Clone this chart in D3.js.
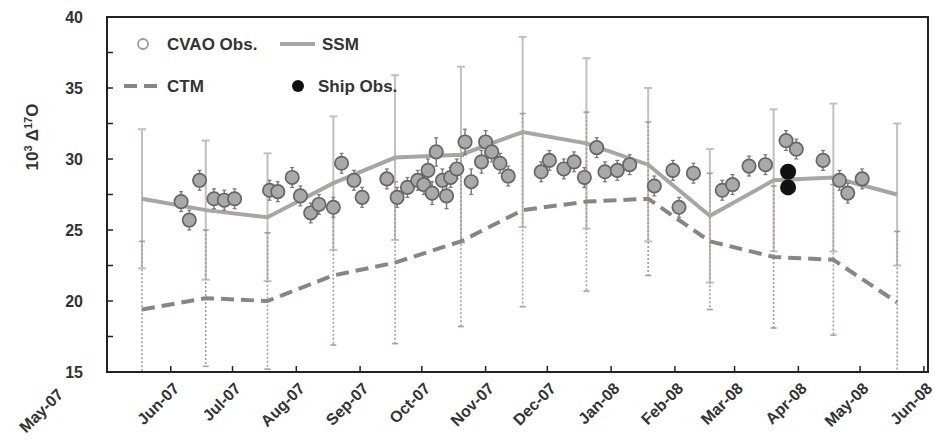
<!DOCTYPE html>
<html>
<head>
<meta charset="utf-8">
<script src="https://cdn.jsdelivr.net/npm/d3@7"></script>
<style>
  html, body { margin: 0; padding: 0; background: #fff; }
  svg { display: block; }
  text { font-family: "Liberation Sans", Arial, sans-serif; font-weight: bold; fill: #333; }
</style>
</head>
<body>
<svg id="chart" width="935" height="440"></svg>
<script>
// ---------- data ----------
const yTicks = [15, 20, 25, 30, 35, 40];
const monthTicks = ["2007-05-01","2007-06-01","2007-07-01","2007-08-01","2007-09-01","2007-10-01",
  "2007-11-01","2007-12-01","2008-01-01","2008-02-01","2008-03-01","2008-04-01","2008-05-01","2008-06-01"];

const modelDates = ["2007-05-18","2007-06-18","2007-07-18","2007-08-19","2007-09-18","2007-10-20",
  "2007-11-19","2007-12-20","2008-01-19","2008-02-18","2008-03-20","2008-04-18","2008-05-19"];
const ssm    = [27.2, 26.4, 25.9, 28.3, 30.1, 30.3, 31.9, 31.1, 29.6, 26.0, 28.5, 28.7, 27.5];
const ssmErr = [4.9, 4.9, 4.5, 4.7, 5.8, 6.2, 6.7, 6.0, 5.4, 4.7, 5.0, 5.2, 5.0];
const ctm    = [19.4, 20.2, 20.0, 21.8, 22.7, 24.2, 26.4, 27.0, 27.2, 24.2, 23.1, 22.9, 19.9];
const ctmErr = [4.8, 4.8, 4.8, 4.9, 5.7, 6.0, 6.8, 6.3, 5.4, 4.8, 5.0, 5.3, 5.0];

const cvaoDates = ["2007-06-06","2007-06-10","2007-06-15","2007-06-22","2007-06-27","2007-07-02",
  "2007-07-19","2007-07-23","2007-07-30","2007-08-03","2007-08-08","2007-08-12","2007-08-19",
  "2007-08-23","2007-08-29","2007-09-02","2007-09-14","2007-09-19","2007-09-24","2007-09-29",
  "2007-10-02","2007-10-04","2007-10-06","2007-10-08","2007-10-11","2007-10-13","2007-10-15",
  "2007-10-18","2007-10-22","2007-10-25","2007-10-30","2007-11-01","2007-11-04","2007-11-08",
  "2007-11-12","2007-11-28","2007-12-02","2007-12-09","2007-12-14","2007-12-19","2007-12-25",
  "2007-12-29","2008-01-04","2008-01-10","2008-01-22","2008-01-31","2008-02-03","2008-02-10",
  "2008-02-24","2008-02-29","2008-03-08","2008-03-16","2008-03-26","2008-03-31","2008-04-13",
  "2008-04-21","2008-04-25","2008-05-02"];
const cvao = [27.0, 25.7, 28.5, 27.2, 27.1, 27.2,
  27.8, 27.7, 28.7, 27.4, 26.2, 26.8, 26.6,
  29.7, 28.5, 27.3, 28.6, 27.3, 28.0, 28.5,
  28.2, 29.2, 27.6, 30.5, 28.5, 27.4, 28.7,
  29.3, 31.2, 28.4, 29.8, 31.2, 30.5, 29.7,
  28.8, 29.1, 29.9, 29.3, 29.8, 28.7, 30.8,
  29.1, 29.2, 29.6, 28.1, 29.2, 26.6, 29.0,
  27.8, 28.2, 29.5, 29.6, 31.3, 30.7, 29.9,
  28.5, 27.6, 28.6];
const cvaoErr = [0.7, 0.7, 0.7, 0.7, 0.7, 0.7,
  0.7, 0.7, 0.7, 0.7, 0.7, 0.7, 0.7,
  0.7, 0.7, 0.7, 0.7, 0.7, 0.7, 0.7,
  0.7, 0.8, 0.8, 1.0, 0.8, 0.9, 0.7,
  0.7, 0.9, 0.9, 0.8, 0.8, 0.7, 0.7,
  0.7, 0.7, 0.7, 0.7, 0.7, 0.7, 0.7,
  0.7, 0.7, 0.7, 0.7, 0.7, 0.7, 0.7,
  0.7, 0.7, 0.7, 0.7, 0.7, 0.7, 0.7,
  0.7, 0.7, 0.7];

const shipDates = ["2008-03-27", "2008-03-27"];
const ship = [29.1, 28.0];

// ---------- layout ----------
const parse = d3.timeParse("%Y-%m-%d");
const pLeft = 107, pRight = 928, pTop = 17, pBottom = 372;
const x = d3.scaleTime().domain([parse("2007-05-01"), parse("2008-06-03")]).range([pLeft, pRight]);
const y = d3.scaleLinear().domain([15, 40]).range([pBottom, pTop]);
const svg = d3.select("#chart");
const fmt = d3.timeFormat("%b-%y");

const model = modelDates.map((d, i) => ({ d: parse(d), ssm: ssm[i], se: ssmErr[i], ctm: ctm[i], ce: ctmErr[i] }));
const obs = cvaoDates.map((d, i) => ({ d: parse(d), v: cvao[i], e: cvaoErr[i] }));
const shipObs = shipDates.map((d, i) => ({ d: parse(d), v: ship[i] }));

const clipY = v => y(Math.max(15, Math.min(40, v)));

const g = svg.append("g");

// SSM error bars (solid)
const se = g.append("g").attr("stroke", "#c4bfbf").attr("stroke-width", 2);
model.forEach(m => {
  const xx = x(m.d);
  se.append("line").attr("x1", xx).attr("x2", xx).attr("y1", clipY(m.ssm + m.se)).attr("y2", clipY(m.ssm - m.se));
  se.append("line").attr("x1", xx - 4).attr("x2", xx + 4).attr("y1", y(m.ssm + m.se)).attr("y2", y(m.ssm + m.se));
  se.append("line").attr("x1", xx - 4).attr("x2", xx + 4).attr("y1", y(m.ssm - m.se)).attr("y2", y(m.ssm - m.se));
});
// CTM error bars (dotted)
const ce = g.append("g").attr("stroke", "#a89c9c").attr("stroke-width", 1.6);
model.forEach(m => {
  const xx = x(m.d);
  ce.append("line").attr("x1", xx).attr("x2", xx).attr("y1", clipY(m.ctm + m.ce)).attr("y2", clipY(m.ctm - m.ce))
    .attr("stroke-dasharray", "2,2");
  ce.append("line").attr("x1", xx - 3).attr("x2", xx + 3).attr("y1", y(m.ctm + m.ce)).attr("y2", y(m.ctm + m.ce));
  if (m.ctm - m.ce > 15)
    ce.append("line").attr("x1", xx - 3).attr("x2", xx + 3).attr("y1", y(m.ctm - m.ce)).attr("y2", y(m.ctm - m.ce));
});

// lines
const lineSSM = d3.line().x(m => x(m.d)).y(m => y(m.ssm));
const lineCTM = d3.line().x(m => x(m.d)).y(m => y(m.ctm));
g.append("path").datum(model).attr("d", lineSSM).attr("fill", "none")
  .attr("stroke", "#a9a5a5").attr("stroke-width", 4);
g.append("path").datum(model).attr("d", lineCTM).attr("fill", "none")
  .attr("stroke", "#8c8484").attr("stroke-width", 4).attr("stroke-dasharray", "13,7");

// CVAO obs error bars + circles
const og = g.append("g");
obs.forEach(o => {
  const xx = x(o.d);
  og.append("line").attr("x1", xx).attr("x2", xx).attr("y1", y(o.v + o.e)).attr("y2", y(o.v - o.e))
    .attr("stroke", "#7a7a7a").attr("stroke-width", 1.5);
  og.append("line").attr("x1", xx - 2).attr("x2", xx + 2).attr("y1", y(o.v + o.e)).attr("y2", y(o.v + o.e))
    .attr("stroke", "#7a7a7a").attr("stroke-width", 1.2);
  og.append("line").attr("x1", xx - 2).attr("x2", xx + 2).attr("y1", y(o.v - o.e)).attr("y2", y(o.v - o.e))
    .attr("stroke", "#7a7a7a").attr("stroke-width", 1.2);
});
og.selectAll("circle").data(obs).join("circle")
  .attr("cx", o => x(o.d)).attr("cy", o => y(o.v)).attr("r", 6.7)
  .attr("fill", "#a9a9a9").attr("stroke", "#666").attr("stroke-width", 1.7);

// Ship obs
g.append("g").selectAll("circle").data(shipObs).join("circle")
  .attr("cx", o => x(o.d)).attr("cy", o => y(o.v)).attr("r", 8)
  .attr("fill", "#111");

// ---------- axes ----------
const ax = svg.append("g");
ax.append("rect").attr("x", pLeft).attr("y", pTop).attr("width", pRight - pLeft).attr("height", pBottom - pTop)
  .attr("fill", "none").attr("stroke", "#222").attr("stroke-width", 2);
d3.range(15, 40.01, 2.5).forEach(v => {
  ax.append("line").attr("x1", pLeft).attr("x2", pLeft + 6).attr("y1", y(v)).attr("y2", y(v))
    .attr("stroke", "#222").attr("stroke-width", 1.5);
});
ax.selectAll("text.yt").data(yTicks).join("text").attr("class", "yt")
  .attr("x", 83).attr("y", v => y(v)).attr("dy", "0.35em").attr("text-anchor", "end")
  .attr("font-size", 16).text(v => v);
const mt = monthTicks.map(parse);
mt.forEach(d => {
  ax.append("line").attr("x1", x(d)).attr("x2", x(d)).attr("y1", pBottom).attr("y2", pBottom - 6)
    .attr("stroke", "#222").attr("stroke-width", 1.5);
});
ax.selectAll("text.xt").data(mt).join("text").attr("class", "xt")
  .attr("transform", (d, i) => i === 0
      ? `translate(${x(d) - 46},${pBottom + 20}) rotate(-45)`
      : `translate(${x(d) + 6},${pBottom + 14}) rotate(-45)`)
  .attr("text-anchor", "end").attr("dy", "0.3em").attr("font-size", 16).text(d => fmt(d));

// y axis title
const yt = svg.append("text").attr("transform", "translate(38,137) rotate(-90)")
  .attr("text-anchor", "middle").attr("font-size", 17);
yt.append("tspan").text("10");
yt.append("tspan").attr("dy", -6).attr("font-size", 11).text("3");
yt.append("tspan").attr("dy", 6).text(" Δ");
yt.append("tspan").attr("dy", -6).attr("font-size", 11).text("17");
yt.append("tspan").attr("dy", 6).text("O");

// ---------- legend ----------
const lg = svg.append("g");
lg.append("circle").attr("cx", 143).attr("cy", 44).attr("r", 5)
  .attr("fill", "#fff").attr("stroke", "#999").attr("stroke-width", 1.8);
lg.append("text").attr("x", 167).attr("y", 44).attr("dy", "0.35em").attr("font-size", 17).text("CVAO Obs.");
lg.append("line").attr("x1", 280).attr("x2", 315).attr("y1", 44).attr("y2", 44)
  .attr("stroke", "#a9a5a5").attr("stroke-width", 4);
lg.append("text").attr("x", 322).attr("y", 44).attr("dy", "0.35em").attr("font-size", 17).text("SSM");
lg.append("line").attr("x1", 124).attr("x2", 158).attr("y1", 86).attr("y2", 86)
  .attr("stroke", "#8c8484").attr("stroke-width", 4).attr("stroke-dasharray", "13,7");
lg.append("text").attr("x", 167).attr("y", 86).attr("dy", "0.35em").attr("font-size", 17).text("CTM");
lg.append("circle").attr("cx", 298).attr("cy", 86).attr("r", 6).attr("fill", "#111");
lg.append("text").attr("x", 318).attr("y", 86).attr("dy", "0.35em").attr("font-size", 17).text("Ship Obs.");
</script>
</body>
</html>
